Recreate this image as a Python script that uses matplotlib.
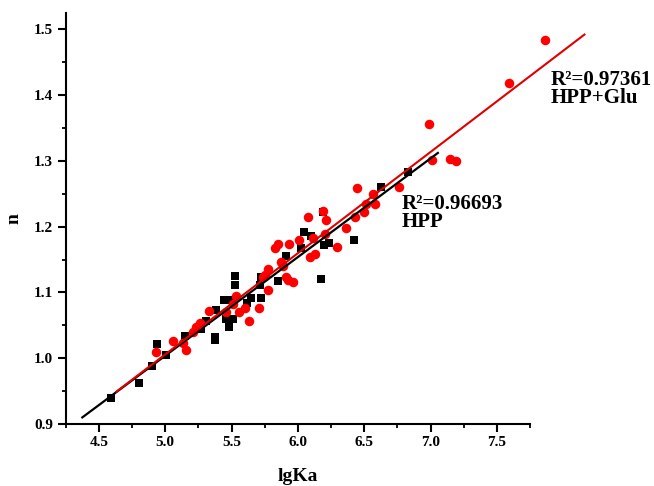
import matplotlib.pyplot as plt
from matplotlib.ticker import MultipleLocator

plt.rcParams['font.family'] = 'Liberation Serif'
plt.rcParams['font.weight'] = 'bold'

# HPP (black squares)
hpp_lgka = [4.593, 4.799, 4.902, 4.935, 5.003, 5.146, 5.372, 5.372, 5.272, 5.309,
            5.385, 5.440, 5.485, 5.480, 5.460, 5.510, 5.525, 5.525, 5.618, 5.648,
            5.719, 5.711, 5.724, 5.849, 5.907, 6.045, 6.101, 6.025, 6.171, 6.193,
            6.233, 6.188, 6.422, 6.628, 6.829]
hpp_n = [0.939, 0.963, 0.988, 1.021, 1.005, 1.034, 1.032, 1.027, 1.045, 1.057,
         1.074, 1.089, 1.089, 1.047, 1.060, 1.060, 1.125, 1.112, 1.084, 1.092,
         1.092, 1.111, 1.124, 1.117, 1.155, 1.192, 1.185, 1.167, 1.121, 1.172,
         1.175, 1.222, 1.179, 1.260, 1.283]

# HPP+Glu (red circles)
glu_lgka = [4.933, 5.058, 5.153, 5.234, 5.259, 5.208, 5.329, 5.460, 5.535, 5.510,
            5.555, 5.598, 5.628, 5.706, 5.736, 5.774, 5.749, 5.774, 5.824, 5.849,
            5.875, 5.907, 5.924, 5.962, 5.930, 6.005, 6.075, 6.093, 6.126, 6.113,
            6.188, 6.214, 6.201, 6.297, 6.364, 6.427, 6.447, 6.515, 6.502, 6.565,
            6.578, 6.761, 6.987, 7.012, 7.143, 7.188, 7.590, 7.866, 5.887, 5.133]
glu_n = [1.009, 1.026, 1.013, 1.048, 1.053, 1.040, 1.072, 1.070, 1.095, 1.083,
         1.070, 1.077, 1.057, 1.076, 1.124, 1.136, 1.126, 1.103, 1.167, 1.173,
         1.146, 1.124, 1.119, 1.116, 1.173, 1.179, 1.215, 1.154, 1.159, 1.182,
         1.224, 1.210, 1.189, 1.169, 1.198, 1.215, 1.258, 1.235, 1.222, 1.250,
         1.234, 1.260, 1.356, 1.302, 1.303, 1.300, 1.419, 1.484, 1.140, 1.023]

# linear fits (end points)
hpp_fit_x = [4.375, 7.055]
hpp_fit_y = [0.910, 1.312]
glu_fit_x = [4.631, 8.160]
glu_fit_y = [0.949, 1.492]

fig = plt.figure(figsize=(6.54, 4.86), dpi=100)
ax = fig.add_axes([0.1005, 0.1276, 0.710, 0.846])

ax.scatter(hpp_lgka, hpp_n, marker='s', s=36, c='black', linewidths=0, clip_on=False, zorder=3)
ax.scatter(glu_lgka, glu_n, marker='o', s=47, c='#ff0000', linewidths=0, clip_on=False, zorder=4)
ax.plot(hpp_fit_x, hpp_fit_y, color='black', lw=1.6, clip_on=False, zorder=5)
ax.plot(glu_fit_x, glu_fit_y, color='#e00000', lw=1.5, clip_on=False, zorder=6)

ax.set_xlim(4.25, 7.75)
ax.set_ylim(0.9, 1.525)
ax.xaxis.set_major_locator(MultipleLocator(0.5))
ax.xaxis.set_minor_locator(MultipleLocator(0.25))
ax.yaxis.set_major_locator(MultipleLocator(0.1))
ax.yaxis.set_minor_locator(MultipleLocator(0.05))
ax.xaxis.set_major_formatter(plt.FormatStrFormatter('%.1f'))
ax.yaxis.set_major_formatter(plt.FormatStrFormatter('%.1f'))

for side in ['top', 'right']:
    ax.spines[side].set_visible(False)
for side in ['left', 'bottom']:
    ax.spines[side].set_linewidth(1.5)

ax.tick_params(which='major', direction='out', length=6, width=1.5, labelsize=11, pad=3)
ax.tick_params(which='minor', direction='out', length=3, width=1.3)

ax.set_xlabel('lgKa', fontsize=14, fontweight='bold', labelpad=13)
ax.set_ylabel('n', fontsize=14, fontweight='bold', labelpad=8)

ax.text(6.779, 1.2273, 'R\u00b2=0.96693', fontsize=15, fontweight='bold', va='baseline', clip_on=False)
ax.text(6.779, 1.1994, 'HPP', fontsize=15, fontweight='bold', va='baseline', clip_on=False)
ax.text(7.902, 1.416, 'R\u00b2=0.97361', fontsize=15, fontweight='bold', va='baseline', clip_on=False)
ax.text(7.902, 1.3876, 'HPP+Glu', fontsize=15, fontweight='bold', va='baseline', clip_on=False)

fig.savefig('out.png', dpi=100)
